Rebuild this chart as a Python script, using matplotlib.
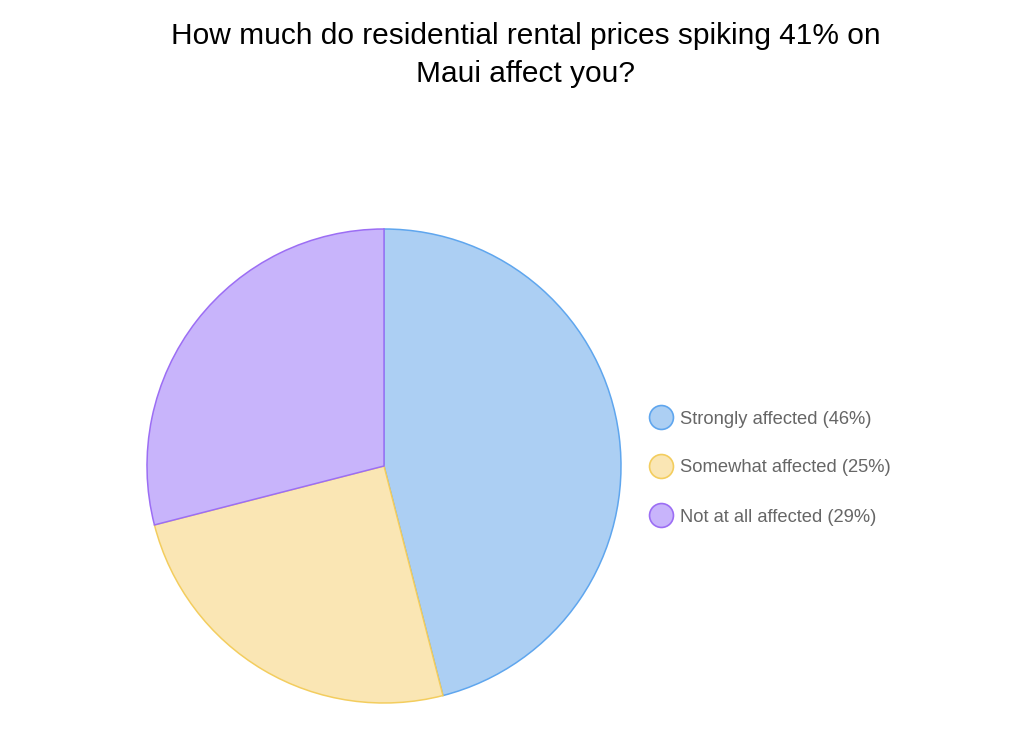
import matplotlib.pyplot as plt

# data
labels = ["Strongly affected", "Somewhat affected", "Not at all affected"]
values = [46, 25, 29]
fills = ["#ACCFF3", "#FAE6B4", "#C8B4FB"]
edges = ["#5FA6EE", "#F3CD5E", "#9C6EF4"]

title = "How much do residential rental prices spiking 41% on\nMaui affect you?"

W, H = 1024, 743
fig = plt.figure(figsize=(W / 100, H / 100), dpi=100)
plt.rcParams['font.family'] = ['Liberation Sans', 'DejaVu Sans']

# pie axes: centre (384,466), radius 237 px
cx, cy, r = 384, 466, 237
ax = fig.add_axes([(cx - r) / W, (H - cy - r) / H, 2 * r / W, 2 * r / H])
wedges, _ = ax.pie(values, colors=fills, startangle=90, counterclock=False,
                   radius=1, wedgeprops=dict(linewidth=1.1))
for w, e in zip(wedges, edges):
    w.set_edgecolor(e)
    w.set_clip_on(False)
ax.set_xlim(-1, 1)
ax.set_ylim(-1, 1)
ax.set_aspect('equal')
ax.axis('off')

fig.text(526 / W, 1 - 55 / H, title, ha='center', va='center', fontsize=21.5,
         color='black', linespacing=1.45)

# legend, drawn in pixel coords
lx = fig.add_axes([0, 0, 1, 1], zorder=5)
lx.set_xlim(0, W)
lx.set_ylim(H, 0)
lx.axis('off')
for i, (lab, v) in enumerate(zip(labels, values)):
    y = 417 + i * 49
    lx.scatter([661], [y], s=12.5 ** 2 * 1.9, color=fills[i], edgecolors=edges[i], linewidths=1.2)
    lx.text(680, y + 2, f"{lab} ({v}%)", va='center', ha='left', fontsize=13.2, color='#666666')

fig.savefig("out.png", dpi=100)
